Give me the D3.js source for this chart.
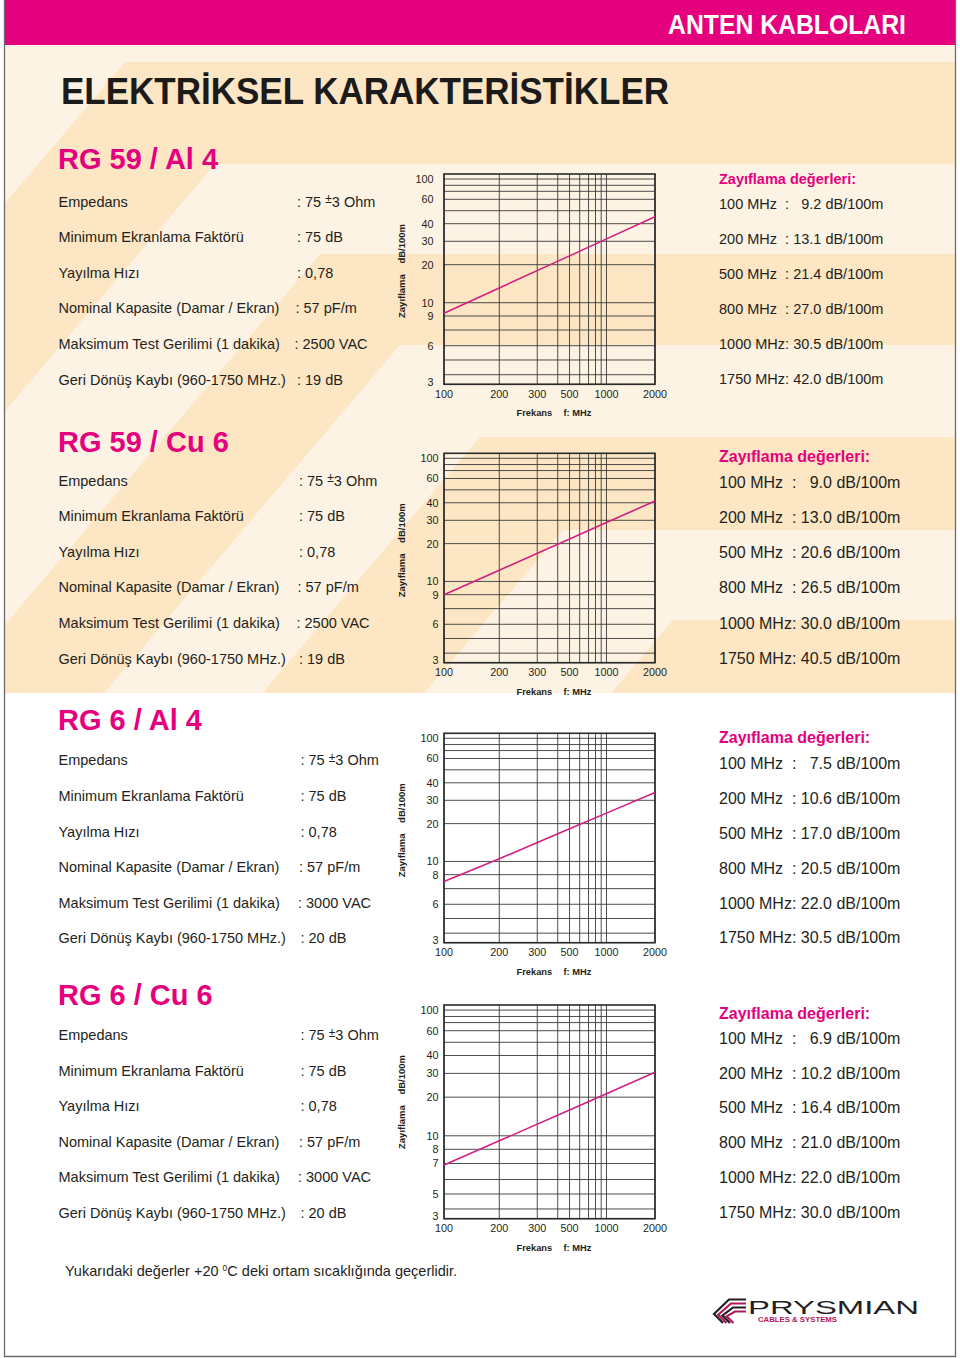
<!DOCTYPE html>
<html><head><meta charset="utf-8">
<script src="https://cdn.jsdelivr.net/npm/d3@7"></script>
<style>
html,body{margin:0;padding:0;background:#fff;}
svg text{font-family:"Liberation Sans",Arial,Helvetica,sans-serif;white-space:pre;}
</style></head><body>
<svg id="page" width="960" height="1358" xmlns="http://www.w3.org/2000/svg"></svg>
<script>
// ---------------- DATA ----------------
const headerTitle = "ANTEN KABLOLARI";
const pageTitle = "ELEKTRİKSEL KARAKTERİSTİKLER";
const cableNames = ["RG 59 / Al 4", "RG 59 / Cu 6", "RG 6 / Al 4", "RG 6 / Cu 6"];
const propertyLabels = ["Empedans", "Minimum Ekranlama Faktörü", "Yayılma Hızı",
  "Nominal Kapasite (Damar / Ekran)", "Maksimum Test Gerilimi (1 dakika)", "Geri Dönüş Kaybı (960-1750 MHz.)"];
const propsRG59Al4 = ["75 ± 3 Ohm", "75 dB", "0,78", "57 pF/m", "2500 VAC", "19 dB"];
const propsRG59Cu6 = ["75 ± 3 Ohm", "75 dB", "0,78", "57 pF/m", "2500 VAC", "19 dB"];
const propsRG6Al4  = ["75 ± 3 Ohm", "75 dB", "0,78", "57 pF/m", "3000 VAC", "20 dB"];
const propsRG6Cu6  = ["75 ± 3 Ohm", "75 dB", "0,78", "57 pF/m", "3000 VAC", "20 dB"];

const attHeader = "Zayıflama değerleri:";
const attFreqs = [100, 200, 500, 800, 1000, 1750];            // MHz
const attRG59Al4 = [9.2, 13.1, 21.4, 27.0, 30.5, 42.0];       // dB/100m
const attRG59Cu6 = [9.0, 13.0, 20.6, 26.5, 30.0, 40.5];
const attRG6Al4  = [7.5, 10.6, 17.0, 20.5, 22.0, 30.5];
const attRG6Cu6  = [6.9, 10.2, 16.4, 21.0, 22.0, 30.0];

// attenuation curve as drawn in each graph
const curveFreqs = [100, 200, 500, 1000, 2000];
const curveRG59Al4 = [9.2, 13.1, 23.3, 31.2, 45.1];
const curveRG59Cu6 = [9.0, 12.3, 21.7, 28.9, 41.2];
const curveRG6Al4  = [7.5, 10.5, 18.2, 24.0, 34.1];
const curveRG6Cu6  = [6.9, 9.2, 15.9, 21.2, 30.5];

// graph grid values and tick labels
const freqGrid = [100, 200, 300, 400, 500, 600, 700, 800, 900, 1000, 2000];
const freqTicks = [100, 200, 300, 500, 1000, 2000];
const attGridA = [100, 90, 80, 60, 50, 40, 30, 20, 10, 9, 8, 6, 5, 4, 3];
const attGridB = [100, 90, 80, 60, 50, 40, 30, 20, 10, 8, 7, 6, 5, 4, 3];
const attTicksA = [100, 60, 40, 30, 20, 10, 9, 6, 3];
const attTicksC = [100, 60, 40, 30, 20, 10, 8, 6, 3];
const attTicksD = [100, 60, 40, 30, 20, 10, 8, 7, 5, 3];
const yAxisTitle = ["Zayıflama", "dB/100m"];
const xAxisTitle = ["Frekans", "f: MHz"];
const footnote = ["Yukarıdaki değerler +20 ", "0", "C deki ortam sıcaklığında geçerlidir."];
const brandName = "PRYSMIAN";
const brandSub = "CABLES & SYSTEMS";

// ---------------- LAYOUT ----------------
// position of grid lines inside the (printed, non-uniform) graph paper, as fraction of plot size
const freqPos = [0, 0.262, 0.442, 0.539, 0.595, 0.643, 0.685, 0.718, 0.745, 0.770, 1];
const attPos  = [0.0238, 0.0537, 0.0823, 0.1203, 0.1745, 0.2363, 0.32, 0.4313, 0.612, 0.6752, 0.7418, 0.8165, 0.8844, 0.9544, 1];

const panels = [
  {name: cableNames[0], props: propsRG59Al4, att: attRG59Al4, curve: curveRG59Al4, grid: attGridA, ticks: attTicksA,
   top: 174, bottom: 384.3, titleY: 168.5, row0: 206.5, valX: 297, rHead: 183.5, rRow0: 209, rStep: 35, rFont: 14.5, yLabX: 433.5},
  {name: cableNames[1], props: propsRG59Cu6, att: attRG59Cu6, curve: curveRG59Cu6, grid: attGridA, ticks: attTicksA,
   top: 453.3, bottom: 662.7, titleY: 451.5, row0: 485.5, valX: 299, rHead: 462, rRow0: 488.3, rStep: 35.06, rFont: 16, yLabX: 438.5},
  {name: cableNames[2], props: propsRG6Al4, att: attRG6Al4, curve: curveRG6Al4, grid: attGridB, ticks: attTicksC,
   top: 733.3, bottom: 942.7, titleY: 730, row0: 765.3, valX: 300.5, rHead: 743, rRow0: 769.4, rStep: 34.8, rFont: 16, yLabX: 438.5},
  {name: cableNames[3], props: propsRG6Cu6, att: attRG6Cu6, curve: curveRG6Cu6, grid: attGridB, ticks: attTicksD,
   top: 1005, bottom: 1218.7, titleY: 1005, row0: 1040, valX: 300.5, rHead: 1018.5, rRow0: 1043.8, rStep: 34.8, rFont: 16, yLabX: 438.5}
];
const rowStep = 35.6, valShift = [0, 0, 0, -1.5, -2.5, 0];
const plotL = 444, plotR = 655;

const LIGHT = "#fdf3e4", PEACH = "#fde6c3", PINK = "#e5007e", INK = "#231f20", CURVE = "#d21f80", GRID = "#3a3a3a";

// ---------------- DRAW ----------------
const svg = d3.select("#page");
svg.append("rect").attr("width", 960).attr("height", 1358).attr("fill", "#fff");

// background bands
const defs = svg.append("defs");
defs.append("clipPath").attr("id", "bgclip").append("rect").attr("x", 4).attr("y", 45).attr("width", 952).attr("height", 648);
const bg = svg.append("g").attr("clip-path", "url(#bgclip)");
bg.append("rect").attr("x", 4).attr("y", 45).attr("width", 952).attr("height", 648).attr("fill", LIGHT);
const ribbons = [[62, 164, 125, 215], [254, 345, 320, 400], [437, 530, 480, 563], [620, 760, 673, 780]];
const K = 0.85, YB = 1000;
bg.selectAll("path.rib").data(ribbons).join("path").attr("class", "rib").attr("fill", PEACH)
  .attr("d", ([yt, yb, xt, xb]) => `M960,${yt}L${xt},${yt}L${xt - K * (YB - yt)},${YB}L${xb - K * (YB - yb)},${YB}L${xb},${yb}L960,${yb}Z`);

// header
svg.append("rect").attr("x", 4).attr("y", 0).attr("width", 952).attr("height", 45).attr("fill", PINK);
svg.append("text").attr("x", 668).attr("y", 33.5).attr("fill", "#fff").attr("font-size", 27).attr("font-weight", "bold")
  .attr("textLength", 238).attr("lengthAdjust", "spacingAndGlyphs").text(headerTitle);
svg.append("text").attr("x", 61).attr("y", 104).attr("fill", "#1b1b1b").attr("font-size", 37).attr("font-weight", "bold")
  .attr("textLength", 608).attr("lengthAdjust", "spacingAndGlyphs").text(pageTitle);

// page frame
svg.append("path").attr("d", "M4.5,0V1356.5H955.5V0").attr("fill", "none").attr("stroke", "#6b6b6b").attr("stroke-width", 1.3);

panels.forEach(p => {
  const g = svg.append("g");
  // title
  g.append("text").attr("x", 58).attr("y", p.titleY).attr("fill", PINK).attr("font-size", 29).attr("font-weight", "bold").text(p.name);
  // property rows
  propertyLabels.forEach((lab, i) => {
    const y = p.row0 + i * rowStep;
    g.append("text").attr("x", 58.5).attr("y", y).attr("fill", INK).attr("font-size", 14.5).text(lab);
    const t = g.append("text").attr("x", p.valX + valShift[i]).attr("y", y).attr("fill", INK).attr("font-size", 14.5);
    const v = p.props[i];
    if (v.includes("±")) {
      const parts = v.split("±");
      t.append("tspan").text(": " + parts[0]);
      t.append("tspan").attr("font-size", 12).attr("dy", -3.5).text("±");
      t.append("tspan").attr("dy", 3.5).text(parts[1].trimStart());
    } else t.text(": " + v);
  });
  // attenuation list
  g.append("text").attr("x", 719).attr("y", p.rHead).attr("fill", PINK).attr("font-size", p.rFont).attr("font-weight", "bold").text(attHeader);
  attFreqs.forEach((f, i) => {
    const v = p.att[i];
    const s = f + " MHz" + (f < 1000 ? "  : " : ": ") + (v < 10 ? "  " : "") + v.toFixed(1) + " dB/100m";
    g.append("text").attr("x", 719).attr("y", p.rRow0 + i * p.rStep).attr("fill", INK).attr("font-size", p.rFont).text(s);
  });

  // graph scales (printed log-paper)
  const x = d3.scaleLog().domain(freqGrid).range(freqPos.map(f => plotL + f * (plotR - plotL)));
  const h = p.bottom - p.top;
  const y = d3.scaleLog().domain(p.grid).range(attPos.map(f => p.top + f * h));

  const gg = g.append("g");
  gg.selectAll("line.h").data(p.grid).join("line").attr("class", "h")
    .attr("x1", plotL).attr("x2", plotR).attr("y1", d => y(d)).attr("y2", d => y(d))
    .attr("stroke", GRID).attr("stroke-width", 0.9);
  gg.selectAll("line.v").data(freqGrid).join("line").attr("class", "v")
    .attr("x1", d => x(d)).attr("x2", d => x(d)).attr("y1", p.top).attr("y2", p.bottom)
    .attr("stroke", GRID).attr("stroke-width", 0.9);
  gg.append("rect").attr("x", plotL).attr("y", p.top).attr("width", plotR - plotL).attr("height", h)
    .attr("fill", "none").attr("stroke", "#2a2a2a").attr("stroke-width", 1.6);

  // curve
  const pts = curveFreqs.map((f, i) => [f, p.curve[i]]);
  gg.append("path").datum(pts).attr("fill", "none").attr("stroke", CURVE).attr("stroke-width", 1.6)
    .attr("d", d3.line().x(d => x(d[0])).y(d => y(d[1])));

  // tick labels
  gg.selectAll("text.yt").data(p.ticks).join("text").attr("class", "yt")
    .attr("x", p.yLabX).attr("y", d => Math.min(y(d), p.bottom - 2.5)).attr("dy", "0.36em")
    .attr("text-anchor", "end").attr("font-size", 10.8).attr("fill", INK).text(d => d);
  gg.selectAll("text.xt").data(freqTicks).join("text").attr("class", "xt")
    .attr("x", d => x(d)).attr("y", p.bottom + 13.5).attr("text-anchor", "middle")
    .attr("font-size", 10.8).attr("fill", INK).text(d => d);
  // axis titles
  gg.append("text").attr("x", 516.5).attr("y", p.bottom + 32).attr("font-size", 9.3).attr("font-weight", "bold").attr("fill", INK).text(xAxisTitle[0]);
  gg.append("text").attr("x", 563.5).attr("y", p.bottom + 32).attr("font-size", 9.3).attr("font-weight", "bold").attr("fill", INK).text(xAxisTitle[1]);
  gg.append("text").attr("transform", `translate(405,${p.top + 97}) rotate(-90)`).attr("text-anchor", "middle")
    .attr("font-size", 9.5).attr("font-weight", "bold").attr("fill", INK).text(yAxisTitle[0] + "    " + yAxisTitle[1]);
});

// footnote
const fn = svg.append("text").attr("x", 65).attr("y", 1276).attr("font-size", 14.5).attr("fill", INK);
fn.append("tspan").text(footnote[0]);
fn.append("tspan").attr("font-size", 8.5).attr("dy", -5).text(footnote[1]);
fn.append("tspan").attr("dy", 5).text(footnote[2]);

// logo
const logo = svg.append("g");
const chevrons = [0, 1, 2, 3];
logo.selectAll("path").data(chevrons).join("path")
  .attr("d", i => `M${746},${1299.5 + 4 * i}H${729 + 2 * i}L${714 + 4.2 * i},${1314 + 0.8 * i}L${723 + 3.5 * i},${1323}`)
  .attr("fill", "none").attr("stroke", i => i % 2 ? "#b0175a" : "#231f20").attr("stroke-width", 2.2);
logo.append("text").attr("x", 748).attr("y", 1313.5).attr("font-family", "DejaVu Sans").attr("font-size", 18)
  .attr("fill", "#231f20").attr("textLength", 171).attr("lengthAdjust", "spacingAndGlyphs").text(brandName);
logo.append("text").attr("x", 758).attr("y", 1322).attr("font-size", 7.5).attr("font-weight", "bold")
  .attr("fill", "#b0175a").attr("textLength", 79).attr("lengthAdjust", "spacingAndGlyphs").text(brandSub);
</script>
</body></html>
